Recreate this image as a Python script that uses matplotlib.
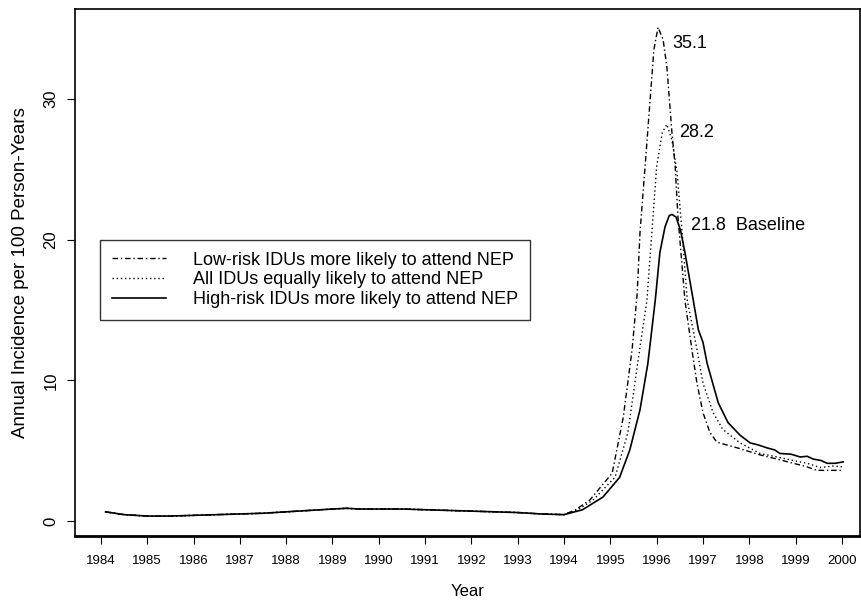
import matplotlib
matplotlib.use('Agg')
import matplotlib.pyplot as plt

plt.rcParams['font.family'] = ['Liberation Sans', 'DejaVu Sans']

# Baseline: high-risk IDUs more likely to attend NEP (solid)
high_years = [1984.1, 1984.5, 1985.0, 1985.5, 1986.0, 1986.5, 1987.0, 1987.5, 1988.0,
              1988.5, 1989.0, 1989.3, 1989.6, 1990.0, 1990.5, 1991.0, 1991.5, 1992.0,
              1992.5, 1993.0, 1993.5, 1994.0, 1994.4, 1994.84, 1995.2, 1995.42, 1995.64,
              1995.81, 1995.97, 1996.07, 1996.18, 1996.27, 1996.33, 1996.42, 1996.52,
              1996.61, 1996.79, 1996.9, 1997.0, 1997.09, 1997.33, 1997.54, 1997.8,
              1998.02, 1998.2, 1998.38, 1998.55, 1998.66, 1998.9, 1999.1, 1999.25,
              1999.38, 1999.55, 1999.68, 1999.85, 2000.03]
high_vals = [0.65, 0.45, 0.35, 0.35, 0.4, 0.45, 0.5, 0.55, 0.65,
             0.75, 0.85, 0.9, 0.85, 0.85, 0.85, 0.8, 0.75, 0.7,
             0.65, 0.6, 0.5, 0.45, 0.8, 1.7, 3.1, 5.05, 7.9,
             11.2, 15.7, 19.1, 20.9, 21.7, 21.8, 21.6, 20.6,
             19.1, 15.7, 13.6, 12.7, 11.2, 8.4, 7.0, 6.1,
             5.55, 5.4, 5.2, 5.05, 4.8, 4.75, 4.55, 4.6,
             4.4, 4.3, 4.1, 4.1, 4.2]

# All IDUs equally likely to attend NEP (dotted)
equal_years = [1984.1, 1984.5, 1985.0, 1985.5, 1986.0, 1986.5, 1987.0, 1987.5, 1988.0,
               1988.5, 1989.0, 1989.3, 1989.6, 1990.0, 1990.5, 1991.0, 1991.5, 1992.0,
               1992.5, 1993.0, 1993.5, 1994.0, 1994.3, 1994.63, 1995.1, 1995.38, 1995.58,
               1995.79, 1996.0, 1996.12, 1996.22, 1996.33, 1996.44, 1996.55, 1996.66,
               1996.87, 1997.0, 1997.22, 1997.43, 1997.8, 1998.23, 1998.6, 1998.95,
               1999.25, 1999.53, 1999.8, 2000.03]
equal_vals = [0.65, 0.45, 0.35, 0.35, 0.4, 0.45, 0.5, 0.55, 0.65,
              0.75, 0.85, 0.9, 0.85, 0.85, 0.85, 0.8, 0.75, 0.7,
              0.65, 0.6, 0.5, 0.45, 0.8, 1.5, 3.1, 6.3, 11.0,
              15.7, 25.2, 27.6, 28.2, 27.1, 24.8, 20.5, 15.7,
              12.2, 9.8, 7.7, 6.5, 5.55, 4.8, 4.55, 4.3,
              4.1, 3.8, 3.9, 3.85]

# Low-risk IDUs more likely to attend NEP (dash-dot)
low_years = [1984.1, 1984.5, 1985.0, 1985.5, 1986.0, 1986.5, 1987.0, 1987.5, 1988.0,
             1988.5, 1989.0, 1989.3, 1989.6, 1990.0, 1990.5, 1991.0, 1991.5, 1992.0,
             1992.5, 1993.0, 1993.5, 1994.0, 1994.25, 1994.56, 1995.04, 1995.28, 1995.47,
             1995.58, 1995.64, 1995.75, 1995.86, 1995.94, 1996.03, 1996.14, 1996.22,
             1996.33, 1996.4, 1996.46, 1996.55, 1996.61, 1996.76, 1996.87, 1997.0,
             1997.15, 1997.3, 1997.74, 1998.23, 1998.6, 1998.95, 1999.2, 1999.46,
             1999.75, 2000.03]
low_vals = [0.65, 0.45, 0.35, 0.35, 0.4, 0.45, 0.5, 0.55, 0.65,
            0.75, 0.85, 0.9, 0.85, 0.85, 0.85, 0.8, 0.75, 0.7,
            0.65, 0.6, 0.5, 0.45, 0.8, 1.5, 3.4, 7.4, 12.2,
            16.2, 20.5, 25.2, 30.0, 33.5, 35.1, 34.2, 32.3,
            27.6, 25.2, 21.6, 18.1, 15.7, 12.2, 9.8, 7.7,
            6.3, 5.6, 5.2, 4.7, 4.4, 4.1, 3.9, 3.6,
            3.6, 3.6]

peak_labels = ['35.1', '28.2', '21.8  Baseline']
peak_years = [1996.03, 1996.22, 1996.33]
peak_vals = [35.1, 28.2, 21.8]
label_offsets = [(10, -12), (9, -6), (14, -8)]

year_ticks = list(range(1984, 2001))
y_ticks = [0, 10, 20, 30]

fig = plt.figure(figsize=(8.61, 6.11), dpi=100)
ax = fig.add_axes([0.0871, 0.1227, 0.9117, 0.8626])

ax.plot(low_years, low_vals, color='black', lw=1.0, linestyle=(0, (4, 2, 1, 2)),
        label='Low-risk IDUs more likely to attend NEP')
ax.plot(equal_years, equal_vals, color='black', lw=1.0, linestyle=(0, (1, 2)),
        label='All IDUs equally likely to attend NEP')
ax.plot(high_years, high_vals, color='black', lw=1.2, linestyle='-',
        label='High-risk IDUs more likely to attend NEP')

for lab, px, py, off in zip(peak_labels, peak_years, peak_vals, label_offsets):
    ax.annotate(lab, (px, py), xytext=off, textcoords='offset points',
                fontsize=13, va='center', ha='left')

ax.set_xlim(1983.44, 2000.39)
ax.set_ylim(-1.07, 36.4)
ax.set_xticks(year_ticks)
ax.set_xticklabels([str(y) for y in year_ticks], fontsize=9.5)
ax.set_yticks(y_ticks)
ax.set_yticklabels([str(v) for v in y_ticks], fontsize=12, rotation=90, va='center')
ax.tick_params(direction='out', length=6, width=0.8, pad=6)
ax.tick_params(axis='x', pad=8)

for s in ax.spines.values():
    s.set_linewidth(1.2)
ax.spines['bottom'].set_linewidth(2.0)

ax.set_xlabel('Year', fontsize=12, labelpad=12)
ax.set_ylabel('Annual Incidence per 100 Person-Years', fontsize=13.5, labelpad=10)

leg = ax.legend(loc='upper left', bbox_to_anchor=(0.032, 0.562), fontsize=13,
                frameon=True, fancybox=False, edgecolor='black', handlelength=3.0,
                handletextpad=1.5, borderpad=0.65, labelspacing=0.15, borderaxespad=0)
leg.get_frame().set_linewidth(1.0)

fig.savefig('out.png', dpi=100)
